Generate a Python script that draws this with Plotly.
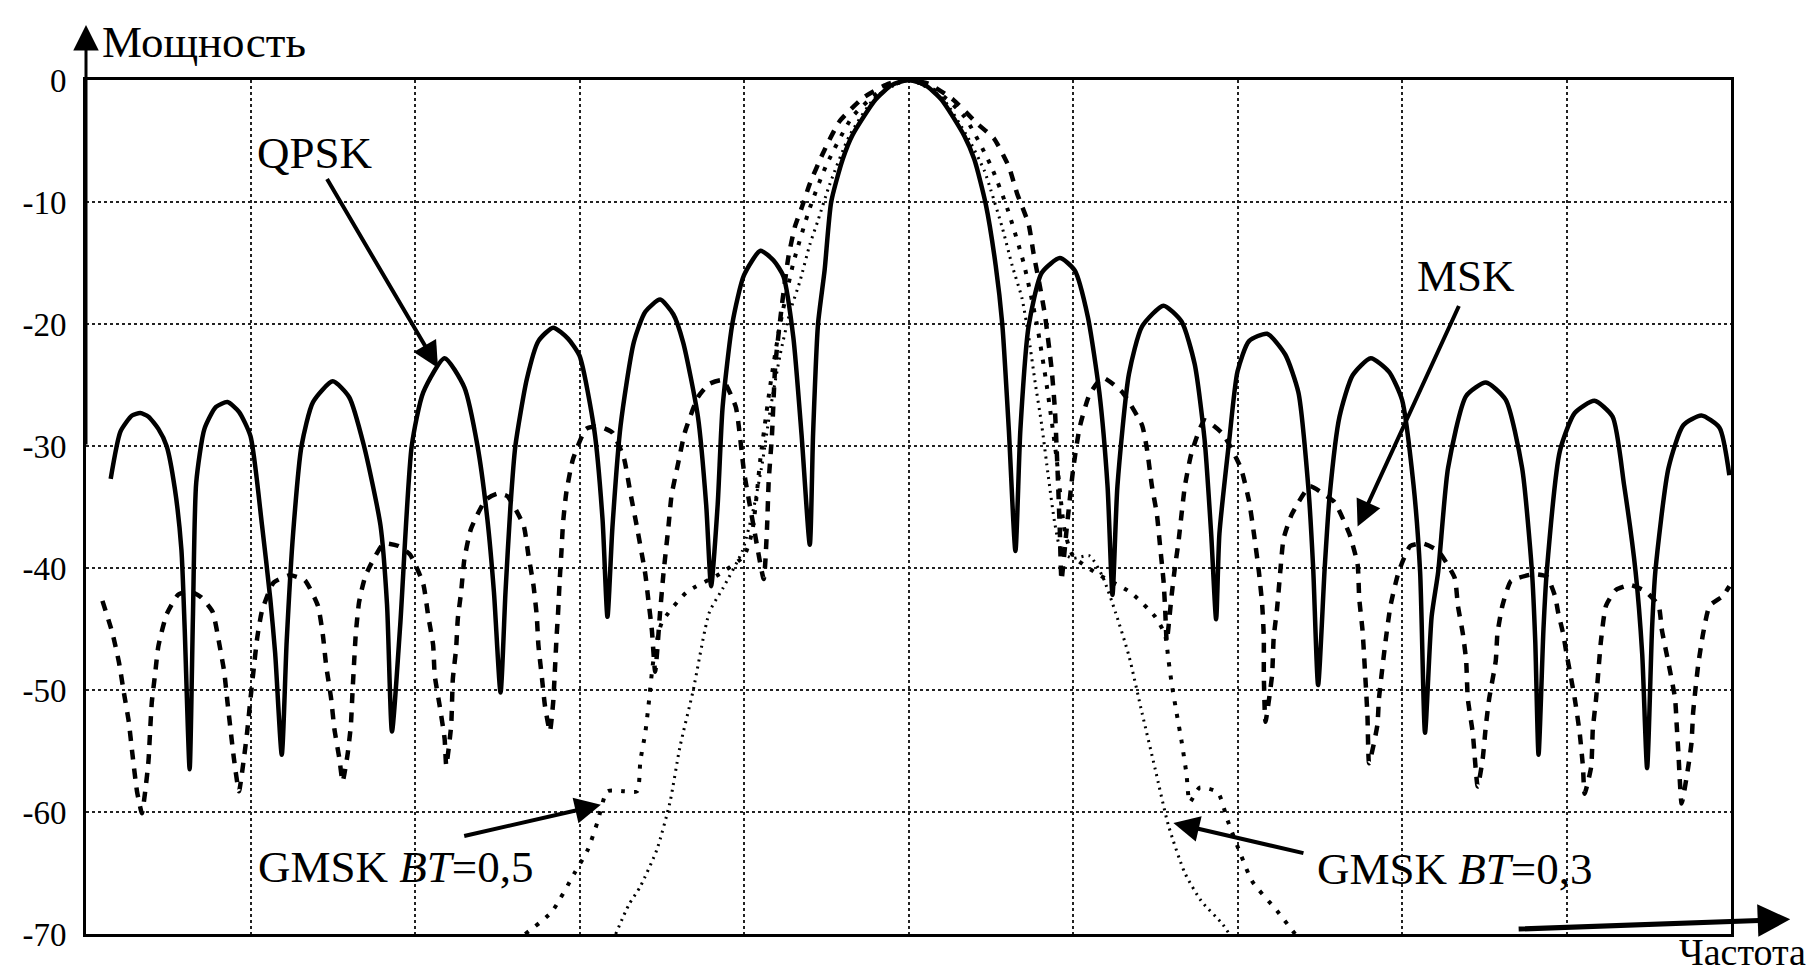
import plotly.graph_objects as go

# ---------------- data ----------------
# x: frequency in grid units (grid line every 1 unit, centre = 0), y: power in dB
qpsk_x = [-4.85, -4.79, -4.72, -4.67, -4.62, -4.56, -4.51, -4.46, -4.42, -4.40, -4.37,
          -4.35, -4.33, -4.28, -4.21, -4.14, -4.07, -4.00, -3.93, -3.88, -3.85, -3.81,
          -3.78, -3.74, -3.69, -3.62, -3.50, -3.40, -3.31, -3.21, -3.17, -3.14,
          -3.09, -3.02, -2.95, -2.82, -2.70, -2.62, -2.56, -2.52, -2.48,
          -2.45, -2.42, -2.39, -2.32, -2.25, -2.16, -2.07, -2.00, -1.91, -1.86, -1.83,
          -1.80, -1.75, -1.67, -1.60, -1.51, -1.43, -1.37, -1.28, -1.23, -1.20,
          -1.16, -1.13, -1.07, -1.00, -0.90, -0.82, -0.76, -0.70, -0.65, -0.60,
          -0.58, -0.55, -0.51, -0.47, -0.40, -0.34, -0.20, -0.10, 0.00, 0.10, 0.20, 0.34, 0.40,
          0.47, 0.53, 0.57, 0.61, 0.65,
          0.68, 0.73, 0.81, 0.92, 1.01, 1.09, 1.16, 1.21, 1.24,
          1.27, 1.34, 1.42, 1.55, 1.66, 1.74, 1.80, 1.84, 1.87,
          1.89, 1.95, 2.00, 2.07, 2.18, 2.29, 2.37, 2.43, 2.46, 2.49,
          2.53, 2.56, 2.62, 2.70, 2.81, 2.92, 3.00, 3.07, 3.11, 3.14,
          3.18, 3.22, 3.28, 3.39, 3.51, 3.63, 3.73, 3.79, 3.81, 3.83,
          3.86, 3.88, 3.96, 4.05, 4.17, 4.28, 4.35, 4.42, 4.46, 4.49,
          4.52, 4.54, 4.62, 4.71, 4.82, 4.93, 4.99]
qpsk_y = [-32.7, -28.8, -27.5, -27.3, -27.6, -28.6, -30.0, -33.5, -38.5, -45.0, -56.5,
          -44.0, -33.0, -28.6, -26.8, -26.4, -27.2, -29.2, -36.5, -42.5, -47.0, -55.3,
          -46.0, -37.0, -30.0, -26.4, -24.7, -26.0, -30.0, -36.5, -43.0, -53.4,
          -44.7, -30.0, -25.6, -22.8, -25.2, -30.0, -36.0, -42.0, -50.2,
          -42.0, -35.0, -30.0, -24.5, -21.4, -20.3, -21.2, -22.6, -28.7, -36.0, -44.0,
          -36.7, -28.3, -21.5, -19.0, -18.0, -19.2, -21.5, -27.6, -34.8, -41.5,
          -34.8, -26.8, -19.9, -16.0, -14.0, -14.8, -16.1, -21.1, -29.1, -38.1,
          -29.0, -20.0, -15.6, -10.0, -6.5, -4.5, -1.6, -0.4, 0.0, -0.4, -1.6, -4.6, -6.5,
          -10.2, -15.2, -20.0, -28.7, -38.6,
          -28.7, -20.2, -15.8, -14.6, -15.6, -19.4, -25.6, -33.3, -42.2,
          -33.3, -24.1, -20.2, -18.5, -19.8, -23.3, -29.5, -37.2, -44.2,
          -37.2, -29.5, -23.9, -21.4, -20.8, -22.5, -25.6, -33.3, -40.0, -49.6,
          -40.0, -34.1, -27.6, -24.2, -22.8, -23.9, -26.2, -33.2, -40.3, -53.5,
          -44.0, -40.3, -31.8, -25.9, -24.8, -26.2, -31.8, -40.3, -46.0, -55.3,
          -45.0, -40.3, -30.4, -27.3, -26.3, -27.6, -33.2, -40.3, -47.0, -56.4,
          -45.0, -40.3, -31.8, -28.3, -27.5, -28.5, -32.4]

msk_x = [-4.90, -4.84, -4.80, -4.77, -4.74, -4.72, -4.69, -4.66,
         -4.64, -4.62, -4.61, -4.60, -4.58, -4.56, -4.51, -4.44, -4.37, -4.30,
         -4.23, -4.19, -4.16, -4.14, -4.12, -4.10, -4.07,
         -4.04, -4.02, -4.00, -3.98, -3.96, -3.93, -3.86, -3.76, -3.67,
         -3.59, -3.56, -3.54, -3.51, -3.49, -3.46, -3.44,
         -3.41, -3.39, -3.38, -3.37, -3.36, -3.34, -3.30, -3.19, -3.10, -3.03,
         -2.95, -2.92, -2.89, -2.88, -2.85, -2.82, -2.81,
         -2.78, -2.77, -2.75, -2.74, -2.72, -2.70, -2.66, -2.57, -2.50, -2.44,
         -2.34, -2.31, -2.28, -2.26, -2.25, -2.23, -2.21, -2.18,
         -2.16, -2.15, -2.14, -2.13, -2.12, -2.11, -2.10, -2.08, -2.04, -1.96, -1.88, -1.80,
         -1.73, -1.69, -1.65, -1.60, -1.58, -1.56, -1.54,
         -1.51, -1.49, -1.46, -1.44, -1.40, -1.36, -1.28, -1.21, -1.13, -1.05,
         -1.00, -0.94, -0.88,
         -0.86, -0.85, -0.83, -0.81, -0.77, -0.73, -0.69, -0.65, -0.60, -0.52, -0.42, -0.27, -0.12, 0.00,
         0.12, 0.27, 0.42, 0.52, 0.61, 0.66, 0.73, 0.76, 0.80, 0.83, 0.87, 0.89, 0.90, 0.91, 0.92, 0.93,
         0.96, 1.00, 1.04, 1.10, 1.18, 1.30, 1.42, 1.45, 1.48, 1.51, 1.53, 1.55, 1.56, 1.57,
         1.60, 1.62, 1.64, 1.68, 1.72, 1.80, 1.91, 2.02, 2.07, 2.10, 2.13, 2.15, 2.16, 2.16, 2.17,
         2.21, 2.22, 2.24, 2.26, 2.28, 2.33, 2.44, 2.52, 2.59, 2.68, 2.73, 2.74, 2.76, 2.77, 2.79, 2.80,
         2.85, 2.86, 2.90, 2.93, 2.98, 3.05, 3.13, 3.22, 3.32, 3.34, 3.37, 3.39, 3.40, 3.43, 3.46,
         3.49, 3.51, 3.53, 3.57, 3.58, 3.61, 3.66, 3.71, 3.80, 3.88, 3.93, 3.95, 3.98, 4.00, 4.05, 4.08, 4.10, 4.11,
         4.15, 4.16, 4.18, 4.21, 4.24, 4.30, 4.39, 4.48, 4.56, 4.58, 4.62, 4.66, 4.67, 4.68, 4.70,
         4.74, 4.76, 4.77, 4.80, 4.83, 4.87, 4.95, 4.99]
msk_y = [-42.7, -45.3, -47.7, -50.2, -52.6, -55.0, -58.3, -60.1,
         -58.3, -55.8, -53.3, -51.0, -48.7, -46.4, -43.8, -42.2, -41.9, -42.4,
         -43.6, -46.2, -48.5, -51.0, -53.4, -55.7, -58.3,
         -55.6, -53.4, -50.7, -48.2, -45.8, -43.5, -41.2, -40.6, -41.0,
         -43.1, -45.5, -48.0, -50.7, -53.2, -55.6, -57.5,
         -55.3, -52.9, -50.2, -47.7, -45.4, -42.8, -40.6, -38.0, -38.2, -38.9,
         -41.3, -43.9, -46.3, -48.8, -51.3, -54.0, -56.2,
         -52.9, -49.1, -46.6, -44.2, -42.0, -39.3, -36.8, -34.4, -33.9, -34.1,
         -36.5, -39.0, -41.4, -43.9, -46.3, -48.8, -51.3, -53.4,
         -51.0, -48.5, -45.8, -43.6, -40.9, -38.7, -36.3, -33.8, -31.1, -28.6, -28.4, -28.9,
         -31.0, -33.9, -36.7, -40.5, -42.8, -45.1, -48.5,
         -43.6, -40.5, -36.7, -34.0, -31.4, -28.9, -26.0, -24.9, -24.6, -26.8,
         -32.1, -36.7, -40.9,
         -36.7, -32.9, -29.1, -23.4, -18.5, -14.5, -12.0, -10.5, -8.5, -6.0, -3.4, -1.4, -0.3, 0.0,
         -0.3, -1.6, -3.6, -4.8, -7.1, -9.3, -11.8, -14.2, -17.0, -19.3, -23.7, -27.0, -30.0, -33.3, -37.0, -41.0,
         -37.0, -32.0, -28.5, -25.8, -24.4, -25.6, -28.3, -30.3, -33.3, -35.6, -38.3, -41.0, -43.3, -46.0,
         -42.2, -39.9, -38.0, -33.3, -30.6, -27.9, -29.0, -31.8, -34.5, -37.2, -40.3, -43.0, -45.7, -48.8, -52.6,
         -48.8, -45.7, -43.4, -40.3, -37.6, -35.6, -33.3, -33.9, -34.6, -37.2, -39.7, -42.5, -45.1, -47.3, -52.1, -56.0,
         -52.9, -50.7, -46.0, -43.1, -40.3, -38.2, -38.0, -38.6, -40.8, -43.1, -45.4, -47.6, -50.7, -53.5, -57.9,
         -55.7, -52.9, -50.7, -47.6, -45.4, -43.1, -41.1, -40.8, -40.5, -40.7, -42.3, -43.7, -45.4, -47.0, -50.7, -53.5, -56.3, -58.5,
         -56.3, -53.2, -50.7, -45.9, -43.1, -41.8, -41.4, -41.9, -43.1, -45.1, -47.8, -50.7, -52.9, -55.1, -59.3,
         -56.3, -54.3, -51.8, -48.0, -45.4, -43.1, -42.3, -41.5]

gmsk03_x = [-1.78, -1.70, -1.63, -1.53, -1.45, -1.39, -1.31, -1.21, -1.13, -1.01, -0.94, -0.89,
            -0.84, -0.78, -0.72, -0.66, -0.60, -0.55, -0.48, -0.36, -0.20, 0.00, 0.20, 0.36,
            0.46, 0.50, 0.57, 0.63, 0.69, 0.73, 0.77, 0.81, 0.85, 0.89, 0.93, 1.00, 1.10,
            1.18, 1.26, 1.34, 1.42, 1.50, 1.58, 1.68, 1.78, 1.91, 1.95]
gmsk03_y = [-70.0, -67.6, -66.1, -63.1, -59.2, -54.7, -50.1, -43.6, -41.7, -38.6, -35.0, -31.5,
            -27.0, -22.5, -19.0, -16.5, -13.5, -11.5, -8.6, -4.6, -1.4, 0.0, -1.4, -4.7,
            -7.4, -9.0, -12.1, -15.2, -17.9, -21.0, -24.8, -28.3, -32.5, -36.4, -38.7, -39.2, -39.0,
            -40.7, -43.7, -47.2, -51.9, -56.5, -61.1, -65.0, -67.3, -69.2, -70.0]

gmsk05_x = [-2.33, -2.17, -2.03, -1.95, -1.89, -1.83, -1.73, -1.65, -1.63, -1.60, -1.58, -1.55,
            -1.50, -1.35, -1.15, -1.00, -0.95, -0.90, -0.84, -0.78, -0.70, -0.60, -0.50, -0.34,
            -0.18, 0.00, 0.18, 0.34, 0.50, 0.60, 0.70, 0.78, 0.84, 0.90, 0.95, 1.00, 1.15, 1.35,
            1.50, 1.56, 1.58, 1.60, 1.63, 1.66, 1.69, 1.71, 1.77, 1.88, 1.94, 2.02, 2.09, 2.24, 2.35]
gmsk05_y = [-70.0, -68.2, -65.0, -63.1, -60.8, -58.3, -58.3, -58.3, -55.8, -53.5, -51.2, -47.5,
            -44.5, -42.0, -40.5, -39.0, -37.0, -31.0, -25.0, -20.0, -15.0, -10.5, -7.0, -3.0,
            -1.0, 0.0, -1.0, -3.0, -7.0, -10.5, -15.0, -20.0, -25.0, -31.0, -37.0, -39.0, -40.5, -42.0,
            -44.0, -45.5, -47.5, -49.5, -51.9, -54.2, -56.9, -59.2, -58.0, -58.4, -60.7, -63.5, -65.7, -68.1, -70.0]

y_ticks = [0, -10, -20, -30, -40, -50, -60, -70]
y_labels = ["0", "-10", "-20", "-30", "-40", "-50", "-60", "-70"]

series_labels = ["QPSK", "MSK", "GMSK <i>BT</i>=0,5", "GMSK <i>BT</i>=0,3"]
axis_titles = ["Мощность", "Частота"]

# ---------------- figure ----------------
FONT = "Liberation Serif, Times New Roman, serif"
fig = go.Figure()

fig.add_trace(go.Scatter(x=gmsk05_x, y=gmsk05_y, mode="lines", showlegend=False,
                         line=dict(color="black", width=4, dash="4px,9px",
                                   shape="spline", smoothing=0.6)))
fig.add_trace(go.Scatter(x=gmsk03_x, y=gmsk03_y, mode="lines", showlegend=False,
                         line=dict(color="black", width=3, dash="2px,5px",
                                   shape="spline", smoothing=0.6)))
fig.add_trace(go.Scatter(x=msk_x, y=msk_y, mode="lines", showlegend=False,
                         line=dict(color="black", width=4.5, dash="10px,9px",
                                   shape="spline", smoothing=0.5)))
fig.add_trace(go.Scatter(x=qpsk_x, y=qpsk_y, mode="lines", showlegend=False,
                         line=dict(color="black", width=4.5,
                                   shape="spline", smoothing=0.6)))

fig.update_layout(
    width=1817, height=974, autosize=False,
    margin=dict(l=78, r=94, t=72, b=48),
    paper_bgcolor="white", plot_bgcolor="white",
    font=dict(family=FONT, color="black", size=33),
    xaxis=dict(range=[-5, 5], dtick=1, tick0=0, showticklabels=False, ticks="",
               showgrid=True, gridcolor="#222", griddash="dot", gridwidth=1.5,
               showline=True, mirror=True, linecolor="black", linewidth=3, zeroline=False),
    yaxis=dict(range=[-70, 0], tickvals=y_ticks, ticktext=y_labels, ticks="",
               ticklabelstandoff=10, tickfont=dict(family=FONT, size=33, color="black"),
               showgrid=True, gridcolor="#222", griddash="dot", gridwidth=1.5,
               showline=True, mirror=True, linecolor="black", linewidth=3, zeroline=False),
)

big = dict(family=FONT, size=45, color="black")
ann = []
# series labels
ann.append(dict(x=-3.61, y=-6.0, xref="x", yref="y", text=series_labels[0], showarrow=False, font=big))
ann.append(dict(x=3.39, y=-16.1, xref="x", yref="y", text=series_labels[1], showarrow=False, font=big))
ann.append(dict(x=-3.12, y=-64.5, xref="x", yref="y", text=series_labels[2], showarrow=False, font=big))
ann.append(dict(x=3.32, y=-64.7, xref="x", yref="y", text=series_labels[3], showarrow=False, font=big))
# pointer arrows (tip <- tail)
for tip, tail in [((-2.86, -23.6), (-3.54, -8.0)),
                  ((2.73, -36.6), (3.35, -18.4)),
                  ((-1.87, -59.4), (-2.71, -62.0)),
                  ((1.61, -60.9), (2.41, -63.4))]:
    ann.append(dict(x=tip[0], y=tip[1], ax=tail[0], ay=tail[1], xref="x", yref="y",
                    axref="x", ayref="y", text="", showarrow=True, arrowhead=2,
                    arrowsize=1.3, arrowwidth=4, arrowcolor="black"))
# axis arrows
ann.append(dict(x=-5, y=4.5, ax=-5, ay=-30, xref="x", yref="y", axref="x", ayref="y",
                text="", showarrow=True, arrowhead=2, arrowsize=1.7, arrowwidth=3, arrowcolor="black"))
ann.append(dict(x=5.36, y=-68.8, ax=3.7, ay=-69.6, xref="x", yref="y", axref="x", ayref="y",
                text="", showarrow=True, arrowhead=2, arrowsize=1.3, arrowwidth=5, arrowcolor="black"))
# axis titles
ann.append(dict(x=0.0085, y=1.0445, xref="paper", yref="paper", xanchor="left", yanchor="middle",
                text=axis_titles[0], showarrow=False, font=dict(family=FONT, size=45, color="black")))
ann.append(dict(x=1.046, y=-0.0468, xref="paper", yref="paper", xanchor="right", yanchor="bottom",
                borderpad=0, text=axis_titles[1], showarrow=False,
                font=dict(family=FONT, size=38, color="black")))
fig.update_layout(annotations=ann)

fig.write_html("out.html")
